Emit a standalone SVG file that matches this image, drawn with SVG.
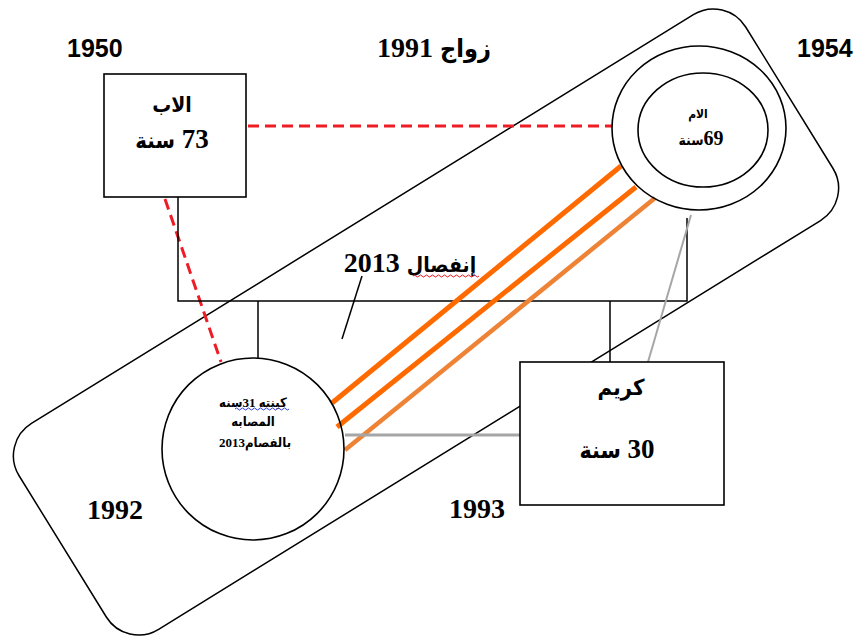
<svg xmlns="http://www.w3.org/2000/svg" width="858" height="639" viewBox="0 0 858 639">
  <style>
    .ln { fill: none; stroke: #000; stroke-width: 1.5; }
    .box { fill: #fff; stroke: #000; stroke-width: 1.6; }
    .ring { fill: none; stroke: #000; stroke-width: 1.6; }
    .red { fill: none; stroke: #ee1c25; stroke-width: 3; stroke-dasharray: 11 6; }
    .org { fill: none; stroke: #ff6a00; stroke-width: 5; }
    .org2 { fill: none; stroke: #ee8235; stroke-width: 4.5; }
    .gry { fill: none; stroke: #a6a6a6; }
    .t { font-family: "Liberation Serif", "DejaVu Sans Condensed", serif; font-weight: bold; fill: #000; }
    .ar { font-family: "DejaVu Sans Condensed", "DejaVu Sans", sans-serif; }
    .s { font-family: "Liberation Sans", "DejaVu Sans", sans-serif; font-weight: bold; fill: #000; }
    .wave { fill: none; stroke-width: 1; }
  </style>

  <!-- enclosing rotated frame -->
  <g id="frame">
    <rect class="ln" x="-427" y="-121" width="854" height="242" rx="38" transform="translate(426,322) rotate(-31.7)"/>
  </g>

  <!-- connectors -->
  <g id="connectors">
    <line class="red" x1="248" y1="126" x2="612" y2="126"/>
    <line class="red" x1="165" y1="199" x2="221" y2="362"/>
    <polyline class="ln" points="178,190 178,301 687,301 687,218"/>
    <line class="ln" x1="258" y1="301" x2="258" y2="358"/>
    <line class="ln" x1="610" y1="301" x2="610" y2="362"/>
    <line class="ln" x1="362" y1="276" x2="342" y2="339"/>
    <line class="org" x1="332" y1="403" x2="621" y2="166"/>
    <line class="org" x1="337" y1="427" x2="636" y2="187"/>
    <line class="org2" x1="345" y1="450" x2="655" y2="198"/>
    <line class="gry" stroke-width="3" x1="345" y1="435" x2="520" y2="435"/>
    <line class="gry" stroke-width="2" x1="648" y1="362" x2="691" y2="215"/>
  </g>

  <!-- father -->
  <g id="father">
    <rect class="box" x="104" y="74" width="142" height="123"/>
    <text class="t ar" x="172" y="112" font-size="21" text-anchor="middle" direction="rtl">الاب</text>
    <text class="t" x="172" y="148" font-size="27" text-anchor="middle" direction="rtl">73 <tspan class="ar" font-size="22">سنة</tspan></text>
  </g>

  <!-- mother -->
  <g id="mother">
    <ellipse class="ring" cx="699" cy="128" rx="87" ry="82"/>
    <ellipse class="ring" cx="703" cy="130" rx="65" ry="57"/>
    <text class="t ar" x="698" y="118" font-size="12" text-anchor="middle" direction="rtl">الام</text>
    <text class="t" x="701" y="145" font-size="20" text-anchor="middle" direction="rtl">69<tspan class="ar" font-size="14">سنة</tspan></text>
  </g>

  <!-- daughter -->
  <g id="daughter">
    <circle class="ring" cx="253" cy="449" r="91"/>
    <text class="t" x="253" y="407" font-size="13" text-anchor="middle" direction="rtl">كينته 31سنه</text>
    <path class="wave" stroke="#2a3be0" d="M235,409 q1.5,-2 3,0 t3,0 t3,0 t3,0 t3,0 t3,0 t3,0 t3,0 t3,0 t3,0 t3,0 t3,0 t3,0 t3,0 t3,0 t3,0 t3,0 t3,0"/>
    <text class="t" x="253" y="426" font-size="13" text-anchor="middle" direction="rtl">المصابه</text>
    <text class="t" x="255" y="447" font-size="13" text-anchor="middle" direction="rtl">بالفصام2013</text>
  </g>

  <!-- son -->
  <g id="son">
    <rect class="box" x="520" y="362" width="204" height="143"/>
    <text class="t ar" x="621" y="395" font-size="22" text-anchor="middle" direction="rtl">كريم</text>
    <text class="t" x="617" y="458" font-size="27" text-anchor="middle" direction="rtl">30 <tspan class="ar" font-size="23">سنة</tspan></text>
  </g>

  <!-- year and event labels -->
  <g id="labels">
    <text class="s" x="67" y="57" font-size="25">1950</text>
    <text class="t" x="434" y="57" font-size="28" text-anchor="middle" direction="rtl"><tspan class="ar" font-size="25">زواج</tspan> 1991</text>
    <text class="s" x="797" y="57" font-size="25">1954</text>
    <text class="t" x="410" y="272" font-size="28" text-anchor="middle" direction="rtl"><tspan class="ar" font-size="21">إنفصال</tspan> 2013</text>
    <path class="wave" stroke="#e8141c" d="M413,276 q1.5,-2 3,0 t3,0 t3,0 t3,0 t3,0 t3,0 t3,0 t3,0 t3,0 t3,0 t3,0 t3,0 t3,0 t3,0 t3,0 t3,0 t3,0 t3,0 t3,0 t3,0 t3,0 t3,0"/>
    <text class="t" x="87" y="519" font-size="28">1992</text>
    <text class="t" x="449" y="518" font-size="28">1993</text>
  </g>
</svg>
